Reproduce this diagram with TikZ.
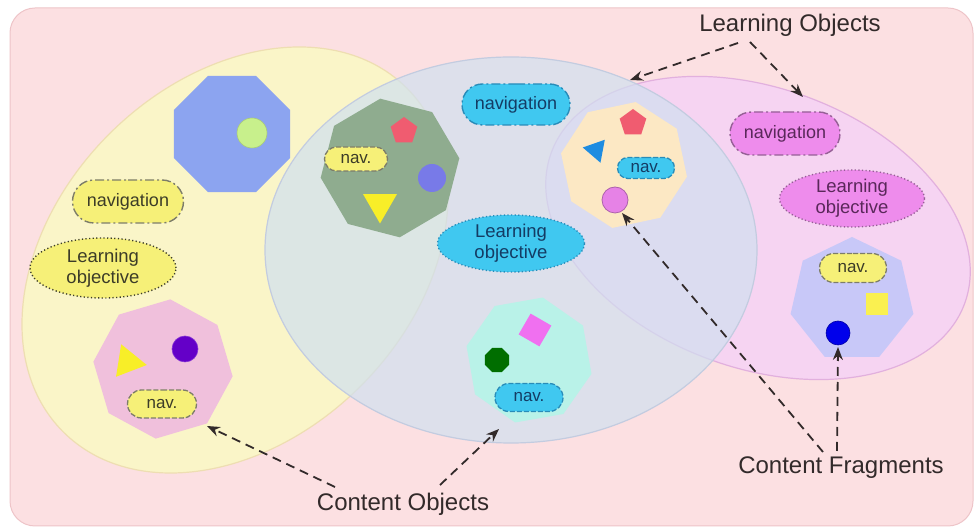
\documentclass[tikz,border=0pt]{standalone}
\usepackage{fontspec}
\setmainfont{Liberation Sans}
\usetikzlibrary{shapes.geometric,shapes.misc,arrows.meta}

% palette
\definecolor{bgpink}{RGB}{252,224,226}
\definecolor{bgline}{RGB}{238,196,200}
\definecolor{yfill}{RGB}{250,245,200}
\definecolor{yline}{RGB}{238,222,178}
\definecolor{mfill}{RGB}{246,212,242}
\definecolor{mline}{RGB}{226,176,222}
\definecolor{bfill}{RGB}{208,224,240}
\definecolor{bline}{RGB}{195,204,224}
\definecolor{octblue}{RGB}{140,164,240}
\definecolor{lightgreen}{RGB}{200,240,140}
\definecolor{octgreen}{RGB}{143,172,143}
\definecolor{redpent}{RGB}{240,92,112}
\definecolor{violetdot}{RGB}{120,122,232}
\definecolor{yellowtri}{RGB}{248,238,40}
\definecolor{beige}{RGB}{252,232,196}
\definecolor{bluetri}{RGB}{30,140,225}
\definecolor{pinkdot}{RGB}{230,130,230}
\definecolor{pinkoct}{RGB}{240,192,220}
\definecolor{purpledot}{RGB}{100,0,200}
\definecolor{aqua}{RGB}{185,242,232}
\definecolor{magsq}{RGB}{240,112,240}
\definecolor{dkgreen}{RGB}{0,110,0}
\definecolor{lav}{RGB}{200,200,248}
\definecolor{yelsq}{RGB}{250,240,80}
\definecolor{bluedot}{RGB}{0,0,235}
\definecolor{pillyellow}{RGB}{246,240,120}
\definecolor{pillcyan}{RGB}{64,200,240}
\definecolor{pillmag}{RGB}{238,140,236}
\definecolor{ydash}{RGB}{125,125,105}
\definecolor{cdash}{RGB}{40,140,185}
\definecolor{mdash}{RGB}{150,95,150}
\definecolor{ytext}{RGB}{60,60,40}
\definecolor{ctext}{RGB}{20,60,100}
\definecolor{mtext}{RGB}{90,40,90}
\definecolor{annot}{RGB}{50,42,42}

\begin{document}
\begin{tikzpicture}[x=1pt,y=1pt,
  poly/.style={regular polygon, inner sep=0pt, draw=none},
  dot/.style={circle, inner sep=0pt, minimum size=#1},
  navpill/.style={rounded rectangle, inner sep=0pt, line width=1.4pt,
    dash pattern=on 9pt off 3pt on 2pt off 3pt,
    font=\fontsize{18}{20}\selectfont},
  navsmall/.style={rounded rectangle, inner sep=0pt, line width=1.3pt,
    dash pattern=on 5pt off 2pt, font=\fontsize{17}{19}\selectfont},
  objective/.style={ellipse, inner sep=0pt, line width=1.4pt,
    dash pattern=on 1.2pt off 2.4pt, align=center,
    font=\fontsize{18.5}{21}\selectfont},
  caption/.style={text=annot, font=\fontsize{24}{26}\selectfont},
  pointer/.style={draw=annot, line width=1.8pt, dash pattern=on 9pt off 6pt,
    -{Stealth[length=13pt,width=10pt]}}
]
\useasboundingbox (0,0) rectangle (980,529);
\fill[white] (0,0) rectangle (980,529);

% frame
\draw[bgline, fill=bgpink, line width=1pt, rounded corners=25pt] (10,3) rectangle (973,521);

% the three learning-object regions
\draw[yline, fill=yfill, line width=1.2pt, rotate around={45:(235,269)}]
  (235,269) ellipse [x radius=243, y radius=178];
\draw[mline, fill=mfill, line width=1.2pt, rotate around={-20:(758,301)}]
  (758,301) ellipse [x radius=220, y radius=140];
\draw[bline, fill=bfill, fill opacity=0.7, line width=1.2pt]
  (511,279) ellipse [x radius=246, y radius=193];

% --- left object ---
\node[poly, regular polygon sides=8, minimum size=125.6pt, fill=octblue] (octA) at (232,395) {};
\node[dot=30pt, fill=lightgreen, draw=lightgreen!85!black, line width=0.6pt] (dotA) at (252,396) {};

\node[navpill, fill=pillyellow, draw=ydash, text=ytext, minimum width=111pt, minimum height=43pt] (navL) at (128,327.5) {navigation};
\node[objective, fill=pillyellow, draw=ytext, text=ytext, minimum width=146pt, minimum height=60pt] (objL) at (103,261) {Learning\\objective};

\node[poly, regular polygon sides=8, minimum size=140pt, fill=pinkoct, shape border rotate=16.5] (octB) at (163,160) {};
\node[poly, regular polygon sides=3, minimum size=38pt, fill=yellowtri, shape border rotate=-99] (triB) at (128,167) {};
\node[dot=26pt, fill=purpledot, draw=purpledot!80!white, line width=0.6pt] (dotB) at (185,180) {};
\node[navsmall, fill=pillyellow, draw=ydash, text=ytext, minimum width=69pt, minimum height=28pt] (navB) at (162,125) {nav.};

% --- centre object ---
\node[poly, regular polygon sides=8, minimum size=140pt, fill=octgreen, shape border rotate=-14.5] (octC) at (390,361) {};
\node[poly, regular polygon sides=5, minimum size=28pt, fill=redpent] (pentC) at (404,398) {};
\node[dot=28pt, fill=violetdot] (dotC) at (432,351) {};
\node[poly, regular polygon sides=3, minimum size=39pt, fill=yellowtri, shape border rotate=180] (triC) at (380,325) {};
\node[navsmall, fill=pillyellow, draw=ydash, text=ytext, minimum width=63pt, minimum height=24pt] (navC) at (356,370) {nav.};

\node[navpill, fill=pillcyan, draw=cdash, text=ctext, minimum width=108pt, minimum height=41pt] (navM) at (516,424.5) {navigation};
\node[objective, fill=pillcyan, draw=cdash, text=ctext, minimum width=147pt, minimum height=57pt] (objM) at (511,285.5) {Learning\\objective};

\node[poly, regular polygon sides=8, minimum size=128pt, fill=aqua, shape border rotate=10] (octD) at (529,169) {};
\node[rectangle, inner sep=0pt, minimum size=24pt, fill=magsq, rotate=-30] (sqD) at (535,199) {};
\node[poly, regular polygon sides=8, minimum size=26pt, fill=dkgreen] (octDsmall) at (497,169) {};
\node[navsmall, fill=pillcyan, draw=cdash, text=ctext, minimum width=68pt, minimum height=28pt] (navD) at (529,131.5) {nav.};

% --- object shared by the centre and right regions ---
\node[poly, regular polygon sides=8, minimum size=128pt, fill=beige, shape border rotate=12] (octE) at (624,364) {};
\node[poly, regular polygon sides=5, minimum size=28pt, fill=redpent] (pentE) at (633,406) {};
\node[poly, regular polygon sides=3, minimum size=27pt, fill=bluetri, shape border rotate=-160.7] (triE) at (596,379) {};
\node[navsmall, fill=pillcyan, draw=cdash, text=ctext, minimum width=57pt, minimum height=21pt] (navE) at (646,361) {nav.};
\node[dot=26pt, fill=pinkdot, draw=pinkdot!75!black, line width=0.8pt] (dotE) at (615,329) {};

% --- right object ---
\node[navpill, fill=pillmag, draw=mdash, text=mtext, minimum width=110pt, minimum height=43pt] (navR) at (785,395.5) {navigation};
\node[objective, fill=pillmag, draw=mdash, text=mtext, minimum width=145pt, minimum height=57pt] (objR) at (852,330.5) {Learning\\objective};

\node[poly, regular polygon sides=7, minimum size=126pt, fill=lav] (hepF) at (852,229) {};
\node[navsmall, fill=pillyellow, draw=ydash, text=ytext, minimum width=67pt, minimum height=29pt] (navF) at (853,261) {nav.};
\node[rectangle, inner sep=0pt, minimum size=22pt, fill=yelsq] (sqF) at (877,225) {};
\node[dot=24pt, fill=bluedot, draw=bluedot!70!black, line width=0.6pt] (dotF) at (838,196) {};

% --- captions and pointers ---
\node[caption] (capLO) at (790,504) {Learning Objects};
\node[caption] (capCO) at (403,25) {Content Objects};
\node[caption] (capCF) at (841,61) {Content Fragments};

\coordinate (loA) at (738,486);
\coordinate (loB) at (750,487);
\coordinate (loTipA) at (630,449);
\coordinate (loTipB) at (803,432);
\coordinate (coA) at (335,42);
\coordinate (coB) at (440,44);
\coordinate (coTipA) at (207,103);
\coordinate (coTipB) at (499,100);
\coordinate (cfA) at (823,77);
\coordinate (cfB) at (837,78);
\coordinate (cfTipA) at (622,316);
\coordinate (cfTipB) at (838,182);

\draw[pointer] (loA) -- (loTipA);
\draw[pointer] (loB) -- (loTipB);
\draw[pointer] (coA) -- (coTipA);
\draw[pointer] (coB) -- (coTipB);
\draw[pointer] (cfA) -- (cfTipA);
\draw[pointer] (cfB) -- (cfTipB);
\end{tikzpicture}
\end{document}
